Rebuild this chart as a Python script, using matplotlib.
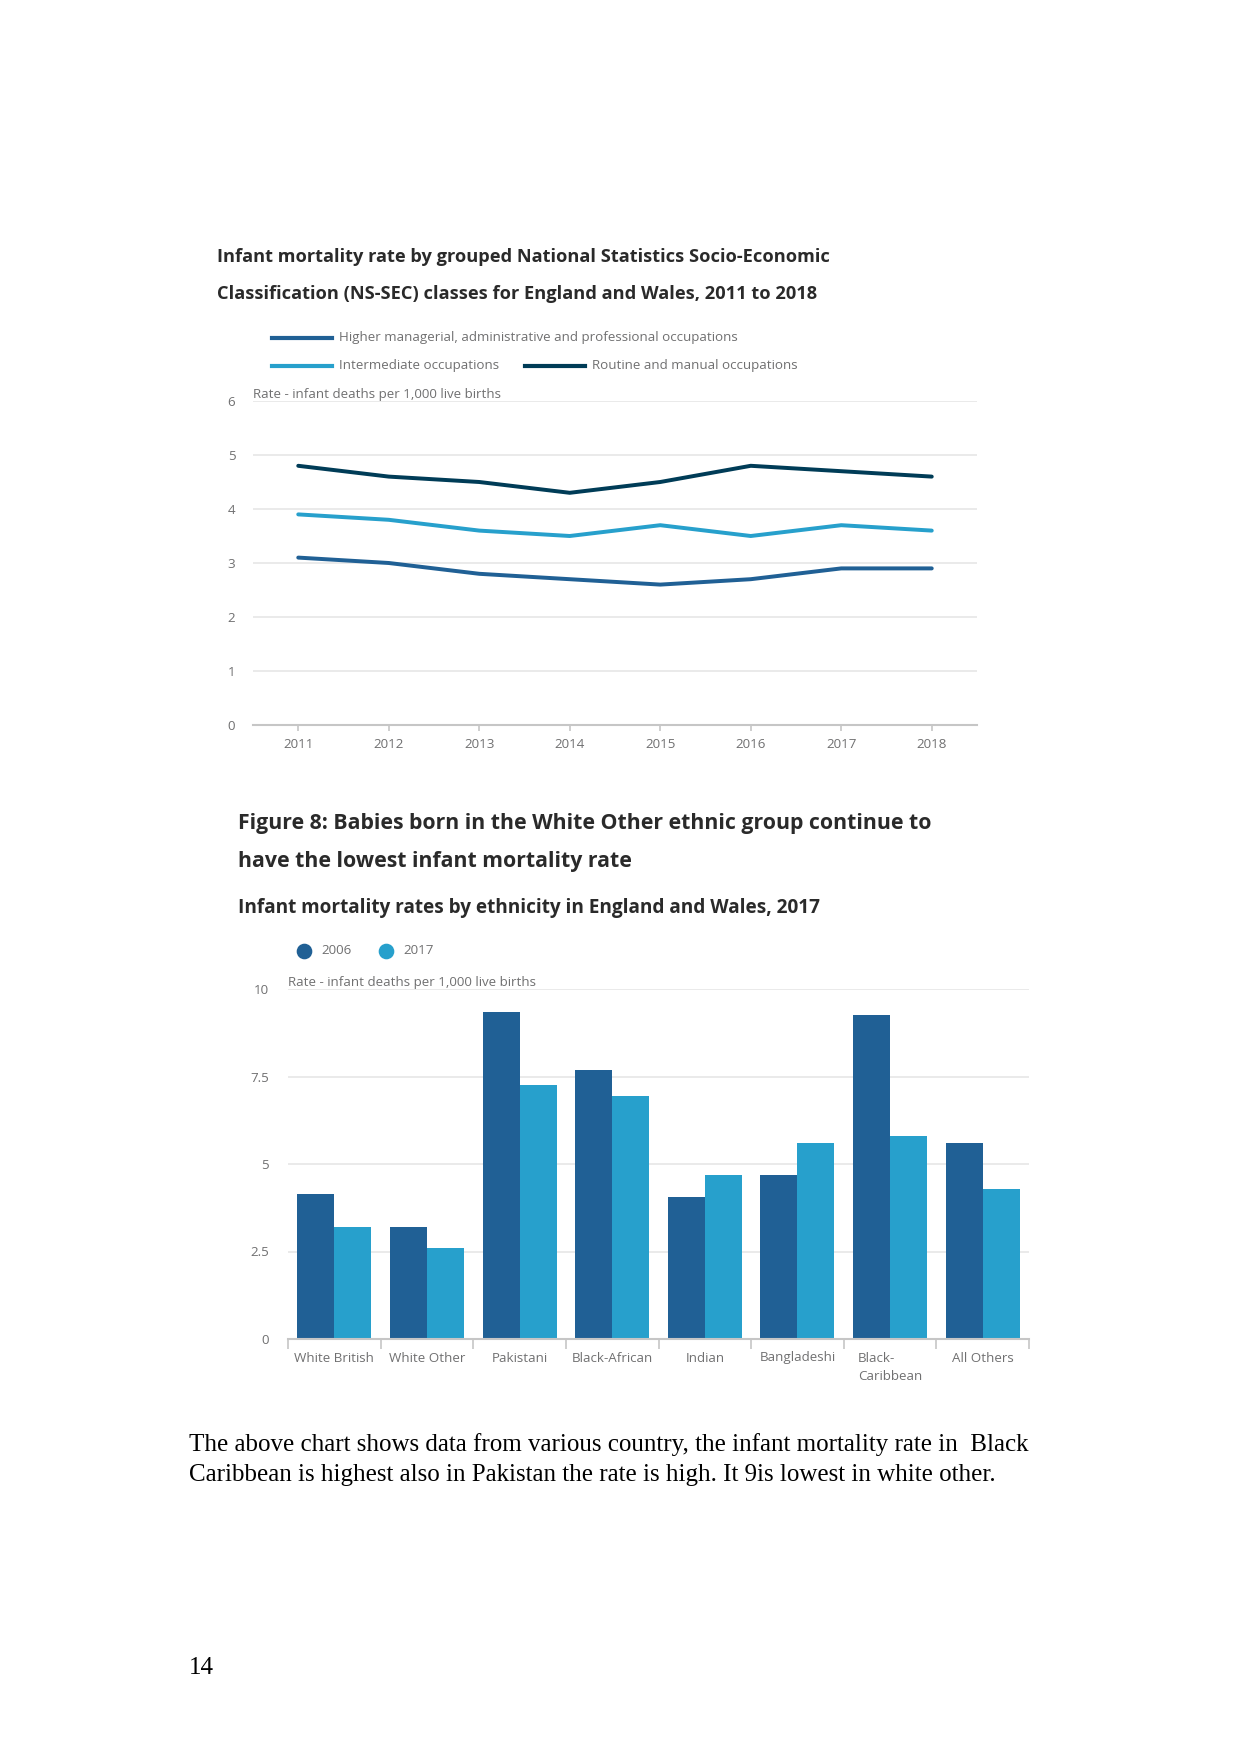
import matplotlib
matplotlib.use("Agg")
import matplotlib.pyplot as plt
from matplotlib.lines import Line2D

# page size in pixels (A4 at 150 dpi)
W, H = 1241, 1754
DPI = 150

# --- data: NS-SEC line chart ---
years = [2011, 2012, 2013, 2014, 2015, 2016, 2017, 2018]
higher = [3.1, 3.0, 2.8, 2.7, 2.6, 2.7, 2.9, 2.9]
intermediate = [3.9, 3.8, 3.6, 3.5, 3.7, 3.5, 3.7, 3.6]
routine = [4.8, 4.6, 4.5, 4.3, 4.5, 4.8, 4.7, 4.6]
line_ticks = [0, 1, 2, 3, 4, 5, 6]

# --- data: ethnicity bar chart ---
groups = ["White British", "White Other", "Pakistani", "Black-African",
          "Indian", "Bangladeshi", "Black-\nCaribbean", "All Others"]
rate_2006 = [4.15, 3.2, 9.35, 7.7, 4.05, 4.7, 9.25, 5.6]
rate_2017 = [3.2, 2.6, 7.25, 6.95, 4.7, 5.6, 5.8, 4.3]
bar_ticks = [0, 2.5, 5, 7.5, 10]
bar_tick_labels = ["0", "2.5", "5", "7.5", "10"]

DARK = "#206095"
LIGHT = "#27a0cc"
NAVY = "#003c57"
GREY_TXT = "#707071"
GRID = "#e9e9e9"
AXIS = "#c6c6c6"
TITLE = "#2a2a2a"
SMALL = 6.4

plt.rcParams['font.family'] = ['Open Sans', 'DejaVu Sans']

fig = plt.figure(figsize=(W / DPI, H / DPI), dpi=DPI, facecolor='white')


def fx(px):
    return px / W


def fy(py):
    return 1 - py / H


def box(left, top, right, bottom):
    return [fx(left), fy(bottom), (right - left) / W, (bottom - top) / H]


def style_axes(ax, pad):
    for s in ['top', 'right', 'left']:
        ax.spines[s].set_visible(False)
    ax.spines['bottom'].set_color(AXIS)
    ax.spines['bottom'].set_linewidth(1.0)
    ax.tick_params(axis='y', length=0, pad=pad, labelsize=SMALL, labelcolor=GREY_TXT)
    ax.grid(axis='y', color=GRID, linewidth=0.9)
    ax.set_axisbelow(True)
    ax.annotate("Rate - infant deaths per 1,000 live births", xy=(0, 1), xycoords='axes fraction',
                xytext=(0, 3.3), textcoords='offset points', fontsize=SMALL, color=GREY_TXT,
                va='center', ha='left')


# ---------------- line chart ----------------
fig.text(fx(217), fy(257), "Infant mortality rate by grouped National Statistics Socio-Economic",
         fontsize=8.75, fontweight='bold', color=TITLE, va='center')
fig.text(fx(217), fy(294), "Classification (NS-SEC) classes for England and Wales, 2011 to 2018",
         fontsize=8.75, fontweight='bold', color=TITLE, va='center')

# legend keys
leg_items = [(272, 332, 338, DARK, "Higher managerial, administrative and professional occupations"),
             (272, 332, 366, LIGHT, "Intermediate occupations"),
             (525, 585, 366, NAVY, "Routine and manual occupations")]
for x0, x1, yy, col, lab in leg_items:
    fig.add_artist(Line2D([fx(x0), fx(x1)], [fy(yy), fy(yy)], color=col, linewidth=2.0,
                          transform=fig.transFigure))
    fig.text(fx(x1 + 7), fy(yy), lab, fontsize=SMALL, color=GREY_TXT, va='center')

ax1 = fig.add_axes(box(253, 401, 977, 725))
ax1.plot(years, routine, color=NAVY, linewidth=1.9, solid_capstyle='round')
ax1.plot(years, intermediate, color=LIGHT, linewidth=1.9, solid_capstyle='round')
ax1.plot(years, higher, color=DARK, linewidth=1.9, solid_capstyle='round')
ax1.set_xlim(2010.5, 2018.5)
ax1.set_ylim(0, 6)
ax1.set_yticks(line_ticks)
ax1.set_xticks(years)
style_axes(ax1, 8.5)
ax1.tick_params(axis='x', length=3, width=0.8, color=AXIS, pad=3, labelsize=SMALL, labelcolor=GREY_TXT)

# ---------------- bar chart ----------------
fig.text(fx(238), fy(823), "Figure 8: Babies born in the White Other ethnic group continue to",
         fontsize=10.2, fontweight='bold', color=TITLE, va='center')
fig.text(fx(238), fy(861), "have the lowest infant mortality rate",
         fontsize=10.2, fontweight='bold', color=TITLE, va='center')
fig.text(fx(238), fy(908), "Infant mortality rates by ethnicity in England and Wales, 2017",
         fontsize=9.15, fontweight='bold', color=TITLE, va='center')

for cx, col, lab in [(304, DARK, "2006"), (386, LIGHT, "2017")]:
    fig.add_artist(Line2D([fx(cx)], [fy(951)], marker='o', markersize=6.5, color=col,
                          linestyle='none', transform=fig.transFigure))
    fig.text(fx(cx + 17), fy(951), lab, fontsize=SMALL, color=GREY_TXT, va='center')

ax2 = fig.add_axes(box(288, 989, 1029, 1339))
pos = list(range(len(groups)))
ax2.bar([p - 0.2 for p in pos], rate_2006, width=0.4, color=DARK)
ax2.bar([p + 0.2 for p in pos], rate_2017, width=0.4, color=LIGHT)
ax2.set_xlim(-0.5, len(groups) - 0.5)
ax2.set_ylim(0, 10)
ax2.set_yticks(bar_ticks)
ax2.set_yticklabels(bar_tick_labels)
style_axes(ax2, 9)
ax2.set_xticks(pos)
ax2.set_xticklabels(groups, fontsize=SMALL, color=GREY_TXT)
for lbl in ax2.get_xticklabels():
    lbl.set_multialignment('left')
    lbl.set_linespacing(1.55)
ax2.tick_params(axis='x', which='major', length=0, pad=6)
ax2.set_xticks([p - 0.5 for p in range(len(groups) + 1)], minor=True)
ax2.tick_params(axis='x', which='minor', length=5, width=0.8, color=AXIS)

# ---------------- body text ----------------
fig.text(fx(189), fy(1445), "The above chart shows data from various country, the infant mortality rate in  Black",
         fontsize=12, family='Liberation Serif', color='black', va='center')
fig.text(fx(189), fy(1475), "Caribbean is highest also in Pakistan the rate is high. It 9is lowest in white other.",
         fontsize=12, family='Liberation Serif', color='black', va='center')
fig.text(fx(189), fy(1668), "14", fontsize=12, family='Liberation Serif', color='black', va='center')

fig.savefig("out.png", dpi=DPI, facecolor='white')
